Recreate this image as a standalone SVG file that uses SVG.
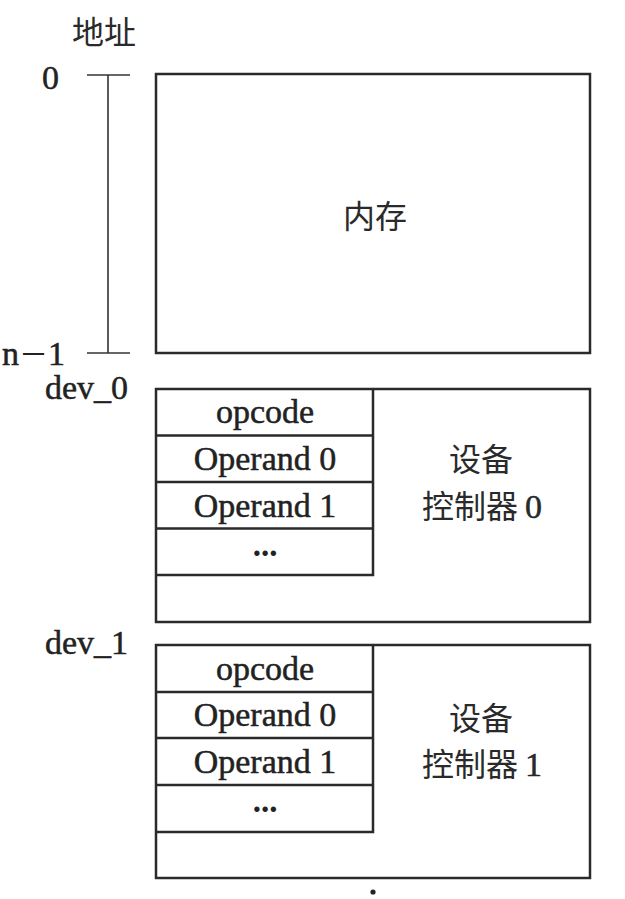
<svg xmlns="http://www.w3.org/2000/svg" width="625" height="899" viewBox="0 0 625 899">
<style>
.box{fill:#fff;stroke:#2a2a2a;stroke-width:2.5}
.cell{fill:none;stroke:#2a2a2a;stroke-width:2.5}
.tick{stroke:#333;stroke-width:1.6;fill:none}
.t{font-family:"Liberation Serif",serif;font-size:34px;fill:#222;stroke:#222;stroke-width:0.5}
.c{font-family:"Noto Sans CJK SC",sans-serif;font-size:32px;fill:#2a2a2a}
.m{text-anchor:middle}
.dots{font-family:"Liberation Serif",serif;font-size:33px;font-weight:bold;fill:#222;text-anchor:middle}
</style>
<rect width="625" height="899" fill="#fff"/>
<g id="address-axis">
<text class="c" x="72" y="44">地址</text>
<text class="t" x="42" y="89">0</text>
<text class="t" x="2" y="365">n<tspan font-family="Noto Sans CJK SC" font-size="29" stroke-width="0">－</tspan>1</text>
<line class="tick" x1="87" y1="75" x2="130" y2="75"/>
<line class="tick" x1="108" y1="75" x2="108" y2="353"/>
<line class="tick" x1="87" y1="353" x2="130" y2="353"/>
</g>
<g id="memory">
<rect class="box" x="156" y="74" width="434" height="279"/>
<text class="c m" x="375" y="228">内存</text>
</g>
<g id="device0">
<text class="t" x="45" y="399">dev_0</text>
<rect class="box" x="156" y="389" width="434" height="233"/>
<path class="cell" d="M373 389V575H156M156 435.5H373M156 482H373M156 528.5H373"/>
<text class="t m" x="265" y="423">opcode</text>
<text class="t m" x="265" y="470">Operand 0</text>
<text class="t m" x="265" y="517">Operand 1</text>
<text class="dots" x="265" y="556">...</text>
<text class="c m" x="481" y="471">设备</text>
<text class="c m" x="482" y="518">控制器 <tspan font-family="Liberation Serif" font-size="34" stroke="#222" stroke-width="0.5">0</tspan></text>
</g>
<g id="device1">
<text class="t" x="45" y="654">dev_1</text>
<rect class="box" x="156" y="645" width="434" height="233"/>
<path class="cell" d="M373 645V832H156M156 692H373M156 738H373M156 785H373"/>
<text class="t m" x="265" y="680">opcode</text>
<text class="t m" x="265" y="726">Operand 0</text>
<text class="t m" x="265" y="773">Operand 1</text>
<text class="dots" x="265" y="812">...</text>
<text class="c m" x="481" y="730">设备</text>
<text class="c m" x="482" y="776">控制器 <tspan font-family="Liberation Serif" font-size="34" stroke="#222" stroke-width="0.5">1</tspan></text>
</g>
<g id="connectors">
<circle cx="373" cy="892" r="2.6" fill="#222"/>
</g>
</svg>
